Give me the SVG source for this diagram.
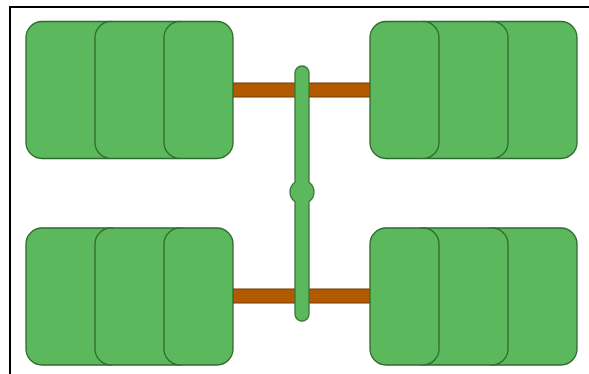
<svg xmlns="http://www.w3.org/2000/svg" width="589" height="374" viewBox="0 0 589 374">
  <style>
    .tyre { fill: #5cb85c; stroke: #2f6b2f; stroke-width: 1.3; }
    .axle { fill: #b35a00; stroke: #6e3a08; stroke-width: 1; }
    .shaft { fill: #5cb85c; stroke: #3a763a; stroke-width: 1.3; }
    .frame { fill: none; stroke: #000; stroke-width: 2; }
  </style>
  <rect x="0" y="0" width="589" height="374" fill="#ffffff"/>
  <path class="frame" d="M10,374 V7 H589"/>

  <g id="connectors">
    <rect class="axle" x="226" y="83" width="150" height="14"/>
    <rect class="axle" x="226" y="289" width="150" height="14"/>
  </g>

  <g id="wheel-front-left">
    <rect class="tyre" x="26" y="21.5" width="100" height="137" rx="16"/>
    <rect class="tyre" x="95" y="21.5" width="100" height="137" rx="16"/>
    <rect class="tyre" x="164" y="21.5" width="69" height="137" rx="16"/>
  </g>
  <g id="wheel-front-right">
    <rect class="tyre" x="477" y="21.5" width="100" height="137" rx="16"/>
    <rect class="tyre" x="408" y="21.5" width="100" height="137" rx="16"/>
    <rect class="tyre" x="370" y="21.5" width="69" height="137" rx="16"/>
  </g>
  <g id="wheel-rear-left">
    <rect class="tyre" x="26" y="228" width="100" height="137" rx="16"/>
    <rect class="tyre" x="95" y="228" width="100" height="137" rx="16"/>
    <rect class="tyre" x="164" y="228" width="69" height="137" rx="16"/>
  </g>
  <g id="wheel-rear-right">
    <rect class="tyre" x="477" y="228" width="100" height="137" rx="16"/>
    <rect class="tyre" x="408" y="228" width="100" height="137" rx="16"/>
    <rect class="tyre" x="370" y="228" width="69" height="137" rx="16"/>
  </g>

  <g id="drive-shaft">
    <path class="shaft" d="M295,73 A7,7 0 0 1 309,73 V182.25 A12,12 0 0 1 309,201.75 V314 A7,7 0 0 1 295,314 V201.75 A12,12 0 0 1 295,182.25 Z"/>
  </g>
</svg>
